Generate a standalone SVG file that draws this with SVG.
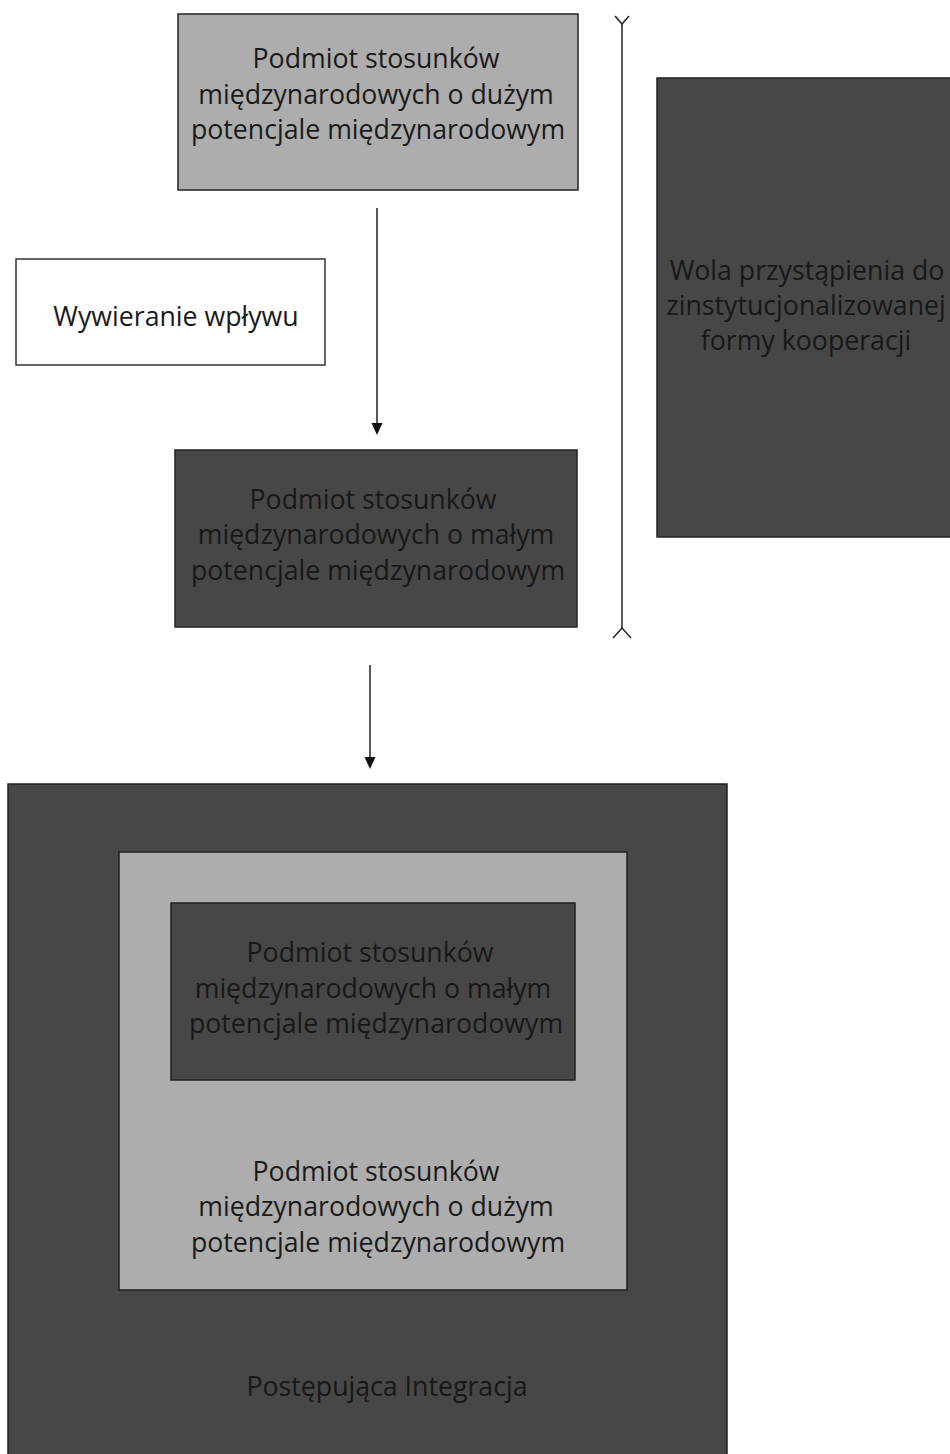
<svg xmlns="http://www.w3.org/2000/svg" width="950" height="1454" viewBox="0 0 950 1454">
<defs>
<marker id="ah" markerWidth="12" markerHeight="12" refX="10" refY="6" orient="auto" markerUnits="userSpaceOnUse">
<path d="M0,0.5 L12,6 L0,11.5 Z" fill="#111"/>
</marker>
<style>
text{font-family:"Open Sans","Liberation Sans",sans-serif;font-size:26.7px;text-anchor:middle}
.light{fill:#adadad;stroke:#222;stroke-width:1.5}
.dark{fill:#474747;stroke:#222;stroke-width:1.5}
.white{fill:#fff;stroke:#333;stroke-width:1.5}
.t{fill:#1a1a1a}
.td{fill:#181818}
.ln{stroke:#222;stroke-width:1.5;fill:none}
</style>
</defs>
<rect width="950" height="1454" fill="#fff"/>
<g id="outer">
<rect class="dark" x="8" y="784" width="719" height="680" fill="#444"/>
<text class="td" x="387" y="1396">Postępująca Integracja</text>
</g>
<g id="inner-large">
<rect class="light" x="119" y="852" width="508" height="438"/>
<text class="t" x="376" y="1181">Podmiot stosunków</text>
<text class="t" x="376" y="1216">międzynarodowych o dużym</text>
<text class="t" x="378" y="1252">potencjale międzynarodowym</text>
</g>
<g id="inner-small">
<rect class="dark" x="171" y="903" width="404" height="177"/>
<text class="td" x="370" y="962">Podmiot stosunków</text>
<text class="td" x="373" y="998">międzynarodowych o małym</text>
<text class="td" x="376" y="1033">potencjale międzynarodowym</text>
</g>
<g id="top">
<rect class="light" x="178" y="14" width="400" height="176"/>
<text class="t" x="376" y="68">Podmiot stosunków</text>
<text class="t" x="376" y="104">międzynarodowych o dużym</text>
<text class="t" x="378" y="139">potencjale międzynarodowym</text>
</g>
<g id="influence">
<rect class="white" x="16" y="259" width="309" height="106"/>
<text class="t" x="176" y="326">Wywieranie wpływu</text>
</g>
<g id="middle">
<rect class="dark" x="175" y="450" width="402" height="177"/>
<text class="td" x="373" y="509">Podmiot stosunków</text>
<text class="td" x="376" y="544">międzynarodowych o małym</text>
<text class="td" x="378" y="580">potencjale międzynarodowym</text>
</g>
<g id="will">
<rect class="dark" x="657" y="78" width="300" height="459" fill="#4a4a4a"/>
<text class="td" x="807" y="280">Wola przystąpienia do</text>
<text class="td" x="806" y="315">zinstytucjonalizowanej</text>
<text class="td" x="806" y="350">formy kooperacji</text>
</g>
<g id="connectors">
<line class="ln" x1="377" y1="208" x2="377" y2="433" marker-end="url(#ah)"/>
<line class="ln" x1="370" y1="665" x2="370" y2="767" marker-end="url(#ah)"/>
<line class="ln" x1="622" y1="24" x2="622" y2="628"/>
<path class="ln" d="M615,16 L622,24 L629,16"/>
<path class="ln" d="M613,638 L622,628 L631,638"/>
</g>
</svg>
